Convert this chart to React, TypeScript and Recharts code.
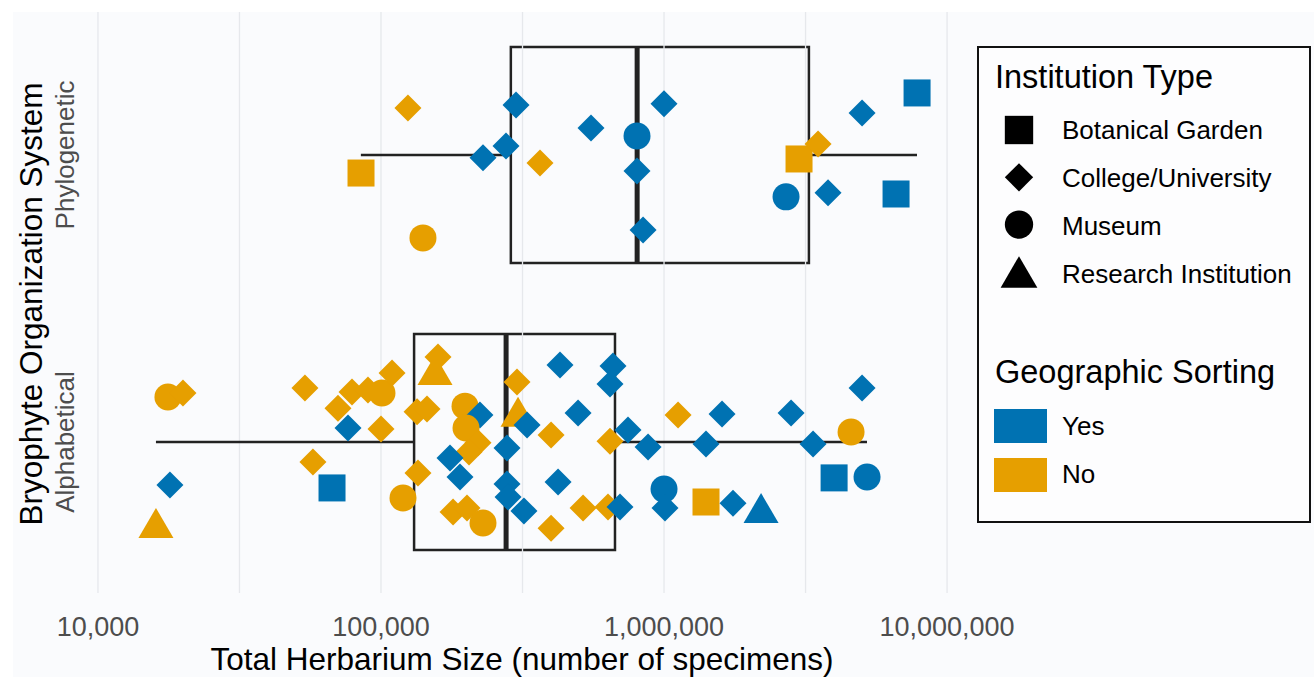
import React from 'react';
import {
  ScatterChart,
  Scatter,
  XAxis,
  YAxis,
  ReferenceArea,
  ReferenceLine,
} from 'recharts';

const BLUE = '#0072B2';
const ORANGE = '#E69F00';
const FONT = '"Liberation Sans", Arial, Helvetica, sans-serif';

// x axis (log scale), minor breaks get no label
const sizeTicks = [10000, 31623, 100000, 316228, 1000000, 3162278, 10000000];
const sizeTickLabels = ['10,000', '', '100,000', '', '1,000,000', '', '10,000,000'];

// categories and their y positions
const categories = ['Alphabetical', 'Phylogenetic'];
const categoryPos = [1, 2];

// box plot stats, same order as categories
const whiskerLow = [16030, 84900];
const quartile1 = [130900, 287600];
const medians = [276700, 803500];
const quartile3 = [671000, 3250000];
const whiskerHigh = [5213000, 7830000];

// institution type codes: G = Botanical Garden, U = College/University, M = Museum, R = Research Institution
const typeCodes = ['G', 'U', 'M', 'R'];
const typeNames = ['Botanical Garden', 'College/University', 'Museum', 'Research Institution'];
const sortingNames = ['Yes', 'No'];

// Phylogenetic herbaria
const phyloSize = [124500, 85000, 140700, 229300, 276500, 300000, 364600, 552000, 802700, 802700, 843000, 1000000, 2698000, 2999000, 3501000, 3797000, 5007000, 7834000, 6603000];
const phyloJitter = [0.164, -0.063, -0.289, -0.01, 0.031, 0.174, -0.028, 0.094, 0.066, -0.056, -0.261, 0.178, -0.146, -0.014, 0.038, -0.132, 0.146, 0.216, -0.136];
const phyloType = ['U', 'G', 'M', 'U', 'U', 'U', 'U', 'U', 'M', 'U', 'U', 'U', 'M', 'G', 'U', 'U', 'U', 'G', 'G'];
const phyloSorting = ['No', 'No', 'No', 'Yes', 'Yes', 'Yes', 'No', 'Yes', 'Yes', 'Yes', 'Yes', 'Yes', 'Yes', 'No', 'No', 'Yes', 'Yes', 'Yes', 'Yes'];

// Alphabetical herbaria
const alphaSize = [
  17670, 19970, 17960, 16030, 53870, 70470, 78980, 89950, 100800, 109400,
  76460, 100000, 57500, 67140, 134100, 145400, 135100, 119600, 159000, 155200,
  198100, 223700, 199700, 220200, 204600, 175300, 190200, 179700, 201300, 229300,
  302400, 304900, 328100, 278800, 398900, 278800, 281100, 320000, 429100, 422200,
  398900, 660300, 644400, 496800, 644400, 746100, 878000, 1121000, 517500, 634000,
  699100, 1000000, 1008000, 1603000, 2811000, 5007000, 4579000, 1407000, 3361000, 3989000,
  5215000, 1407000, 1753000, 2202000,
];
const alphaJitter = [
  0.157, 0.171, -0.15, -0.282, 0.188, 0.118, 0.174, 0.181, 0.171, 0.24,
  0.049, 0.045, -0.07, -0.16, 0.105, 0.115, -0.108, -0.195, 0.296, 0.251,
  0.125, 0.094, 0.049, -0.003, -0.035, -0.056, -0.122, -0.244, -0.23, -0.282,
  0.209, 0.105, 0.059, -0.021, 0.024, -0.146, -0.192, -0.24, 0.268, -0.139,
  -0.3, 0.265, 0.202, 0.101, 0.003, 0.042, -0.017, 0.094, -0.23, -0.226,
  -0.226, -0.164, -0.23, 0.098, 0.101, 0.188, 0.035, -0.007, -0.007, -0.125,
  -0.122, -0.209, -0.213, -0.23,
];
const alphaType = [
  'M', 'U', 'U', 'R', 'U', 'U', 'U', 'U', 'M', 'U',
  'U', 'U', 'U', 'G', 'U', 'U', 'U', 'M', 'U', 'R',
  'M', 'U', 'M', 'U', 'U', 'U', 'U', 'U', 'U', 'M',
  'U', 'R', 'U', 'U', 'U', 'U', 'U', 'U', 'U', 'U',
  'U', 'U', 'U', 'U', 'U', 'U', 'U', 'U', 'U', 'U',
  'U', 'M', 'U', 'U', 'U', 'U', 'M', 'U', 'U', 'G',
  'M', 'G', 'U', 'R',
];
const alphaSorting = [
  'No', 'No', 'Yes', 'No', 'No', 'No', 'No', 'No', 'No', 'No',
  'Yes', 'No', 'No', 'Yes', 'No', 'No', 'No', 'No', 'No', 'No',
  'No', 'Yes', 'No', 'No', 'No', 'Yes', 'Yes', 'No', 'No', 'No',
  'No', 'No', 'Yes', 'Yes', 'No', 'Yes', 'Yes', 'Yes', 'Yes', 'Yes',
  'No', 'Yes', 'Yes', 'Yes', 'No', 'Yes', 'Yes', 'No', 'No', 'No',
  'Yes', 'Yes', 'Yes', 'Yes', 'Yes', 'Yes', 'No', 'Yes', 'Yes', 'Yes',
  'Yes', 'No', 'Yes', 'Yes',
];

const buildPoints = (sizes: number[], jitter: number[], types: string[], sorting: string[], pos: number) =>
  sizes.map((x, i) => ({ x, y: pos + jitter[i], type: types[i], sorting: sorting[i] }));

const alphaData = buildPoints(alphaSize, alphaJitter, alphaType, alphaSorting, categoryPos[0]);
const phyloData = buildPoints(phyloSize, phyloJitter, phyloType, phyloSorting, categoryPos[1]);

const BOX_HALF = 0.376;

function drawSymbol(type: string, cx: number, cy: number, fill: string, s = 1) {
  if (type === 'G') {
    const h = 13.5 * s;
    return <rect x={cx - h} y={cy - h} width={h * 2} height={h * 2} fill={fill} />;
  }
  if (type === 'U') {
    const h = 13.5 * s;
    return <polygon points={`${cx},${cy - h} ${cx + h},${cy} ${cx},${cy + h} ${cx - h},${cy}`} fill={fill} />;
  }
  if (type === 'M') {
    return <circle cx={cx} cy={cy} r={13.5 * s} fill={fill} />;
  }
  const w = 17.5 * s;
  const hh = 15 * s;
  return <polygon points={`${cx},${cy - hh} ${cx + w},${cy + hh} ${cx - w},${cy + hh}`} fill={fill} />;
}

const PointShape = (props: any) => {
  const { cx, cy, payload } = props;
  if (cx == null || cy == null) return <g />;
  return drawSymbol(payload.type, cx, cy, payload.sorting === 'Yes' ? BLUE : ORANGE);
};

const XTick = (props: any) => {
  const { x, payload } = props;
  const idx = sizeTicks.indexOf(payload.value);
  return (
    <text x={x} y={624} textAnchor="middle" fontSize={27} fill="#4d4d4d" fontFamily={FONT}>
      {sizeTickLabels[idx]}
    </text>
  );
};

const YTick = (props: any) => {
  const { y, payload } = props;
  const idx = categoryPos.indexOf(payload.value);
  return (
    <text transform={`translate(61, ${y}) rotate(-90)`} textAnchor="middle" fontSize={26} fill="#4d4d4d" fontFamily={FONT}>
      {categories[idx]}
    </text>
  );
};

const XTitle = () => (
  <text x={509} y={658} textAnchor="middle" fontSize={31.5} fill="#000" fontFamily={FONT}>
    Total Herbarium Size (number of specimens)
  </text>
);

const YTitle = () => (
  <text transform="translate(29, 292) rotate(-90)" textAnchor="middle" fontSize={31.5} fill="#000" fontFamily={FONT}>
    Bryophyte Organization System
  </text>
);

function LegendBox() {
  const swatch = [BLUE, ORANGE];
  return (
    <svg
      width={334}
      height={477}
      style={{ position: 'absolute', left: 964, top: 34, fontFamily: FONT }}
    >
      <rect x={1} y={1} width={332} height={475} fill="#fdfdfe" stroke="#111" strokeWidth={2} />
      <text x={18} y={42} fontSize={32.5} fill="#000">Institution Type</text>
      {typeCodes.map((code, i) => (
        <g key={code}>
          {drawSymbol(code, 42, 84 + i * 47.3, '#000', 1.05)}
          <text x={85} y={93 + i * 48} fontSize={26} fill="#000">{typeNames[i]}</text>
        </g>
      ))}
      <text x={18} y={337} fontSize={32.5} fill="#000">Geographic Sorting</text>
      {sortingNames.map((name, i) => (
        <g key={name}>
          <rect x={17} y={363 + i * 49} width={53} height={34} fill={swatch[i]} />
          <text x={85} y={389 + i * 48} fontSize={26} fill="#000">{name}</text>
        </g>
      ))}
    </svg>
  );
}

export default function App() {
  return (
    <div style={{ position: 'absolute', left: 13, top: 12, width: 1301, height: 665, background: '#fafbfd' }}>
      <ScatterChart width={1301} height={665} margin={{ top: 0, right: 353, bottom: 0, left: 0 }}>
        <XAxis
          type="number"
          dataKey="x"
          scale="log"
          domain={[9000, 11200000]}
          allowDataOverflow
          ticks={sizeTicks}
          tick={<XTick />}
          axisLine={false}
          tickLine={false}
          height={84}
          interval={0}
          label={{ value: 'Total Herbarium Size (number of specimens)', content: XTitle }}
        />
        <YAxis
          type="number"
          dataKey="y"
          domain={[0.474, 2.498]}
          allowDataOverflow
          ticks={categoryPos}
          tick={<YTick />}
          axisLine={false}
          tickLine={false}
          width={72}
          interval={0}
          label={{ value: 'Bryophyte Organization System', content: YTitle }}
        />
        {sizeTicks.map((t) => (
          <ReferenceLine key={`g${t}`} x={t} stroke="#e6e8ec" strokeWidth={1.3} />
        ))}
        {categoryPos.map((pos, i) => (
          <ReferenceLine
            key={`wl${i}`}
            segment={[{ x: whiskerLow[i], y: pos }, { x: quartile1[i], y: pos }]}
            stroke="#222"
            strokeWidth={2.5}
          />
        ))}
        {categoryPos.map((pos, i) => (
          <ReferenceLine
            key={`wh${i}`}
            segment={[{ x: quartile3[i], y: pos }, { x: whiskerHigh[i], y: pos }]}
            stroke="#222"
            strokeWidth={2.5}
          />
        ))}
        {categoryPos.map((pos, i) => (
          <ReferenceArea
            key={`box${i}`}
            x1={quartile1[i]}
            x2={quartile3[i]}
            y1={pos - BOX_HALF}
            y2={pos + BOX_HALF}
            fill="none"
            fillOpacity={0}
            stroke="#222"
            strokeWidth={2.5}
          />
        ))}
        {categoryPos.map((pos, i) => (
          <ReferenceLine
            key={`med${i}`}
            segment={[{ x: medians[i], y: pos - BOX_HALF }, { x: medians[i], y: pos + BOX_HALF }]}
            stroke="#222"
            strokeWidth={5}
          />
        ))}
        <Scatter data={phyloData} shape={<PointShape />} isAnimationActive={false} />
        <Scatter data={alphaData} shape={<PointShape />} isAnimationActive={false} />
      </ScatterChart>
      <LegendBox />
    </div>
  );
}
